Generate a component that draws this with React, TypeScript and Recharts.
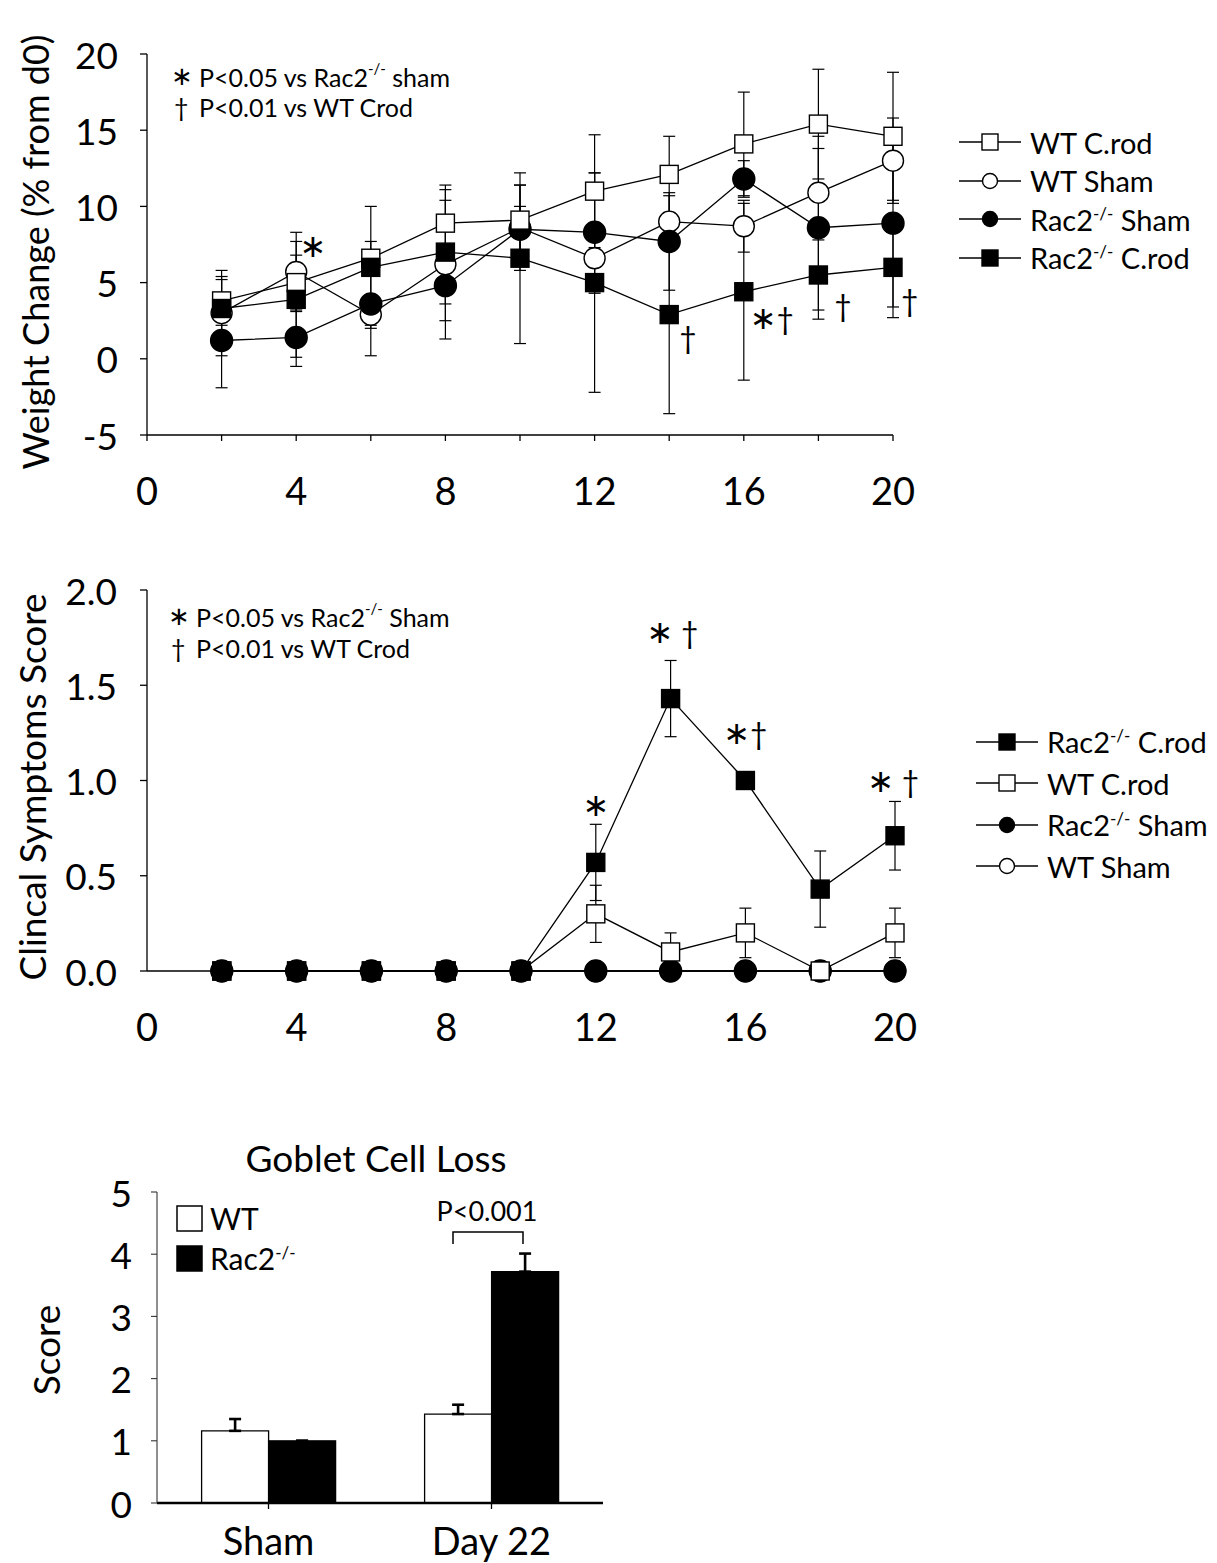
import React from 'react';
import { LineChart, Line, XAxis, YAxis, ErrorBar, BarChart, Bar, Legend, ReferenceDot } from 'recharts';

const FONT = 'Lato, "Open Sans", "DejaVu Sans", sans-serif';
const STAR_FONT = '"DejaVu Sans", sans-serif';

// days after infection
const days = [2, 4, 6, 8, 10, 12, 14, 16, 18, 20];

// weight change (% from d0): means and error bars
const wtCrodWeight = [3.8, 5.0, 6.6, 8.9, 9.1, 11.0, 12.1, 14.1, 15.4, 14.6];
const wtCrodWeightErr = [1.6, 1.8, 1.1, 2.5, 2.3, 3.7, 2.5, 3.4, 3.6, 4.2];
const wtShamWeight = [3.0, 5.7, 2.9, 6.2, 8.6, 6.6, 9.0, 8.7, 10.9, 13.0];
const wtShamWeightErr = [2.8, 2.6, 0.7, 4.9, 2.8, 2.3, 1.7, 1.7, 2.9, 2.8];
const racShamWeight = [1.2, 1.4, 3.6, 4.8, 8.5, 8.3, 7.7, 11.8, 8.6, 8.9];
const racShamWeightErr = [3.1, 1.9, 3.4, 2.3, 1.5, 3.9, 3.2, 1.2, 6.0, 6.2];
const racCrodWeight = [3.3, 3.9, 6.0, 7.0, 6.6, 5.0, 2.9, 4.4, 5.5, 6.0];
const racCrodWeightErr = [1.9, 3.8, 4.0, 3.4, 5.6, 7.2, 6.5, 5.8, 2.3, 2.6];

// clinical symptoms score
const racCrodScore = [0, 0, 0, 0, 0, 0.57, 1.43, 1.0, 0.43, 0.71];
const racCrodScoreErr = [0, 0, 0, 0, 0, 0.2, 0.2, 0, 0.2, 0.18];
const wtCrodScore = [0, 0, 0, 0, 0, 0.3, 0.1, 0.2, 0, 0.2];
const wtCrodScoreErr = [0, 0, 0, 0, 0, 0.15, 0.1, 0.13, 0, 0.13];
const racShamScore = [0, 0, 0, 0, 0, 0, 0, 0, 0, 0];
const wtShamScore = [0, 0, 0, 0, 0, 0, 0, 0, 0, 0];

// goblet cell loss
const gobletGroups = ['Sham', 'Day 22'];
const gobletWt = [1.16, 1.43];
const gobletWtErr = [0.19, 0.15];
const gobletRac = [1.0, 3.72];
const gobletRacErr = [0, 0.29];

// significance marks
const weightMarks = [
  { day: 4.45, value: 7.4, text: '*' },
  { day: 14.5, value: 1.4, text: '†' },
  { day: 16.75, value: 2.65, text: '*†' },
  { day: 18.66, value: 3.5, text: '†' },
  { day: 20.45, value: 3.85, text: '†' },
];
const scoreMarks = [
  { day: 12, value: 0.87, text: '*' },
  { day: 14.05, value: 1.78, text: '* †' },
  { day: 16.0, value: 1.25, text: '*†' },
  { day: 19.95, value: 1.0, text: '* †' },
];

const weightRows = days.map((d, i) => ({
  day: d,
  wtCrod: wtCrodWeight[i], wtCrodErr: wtCrodWeightErr[i],
  wtSham: wtShamWeight[i], wtShamErr: wtShamWeightErr[i],
  racSham: racShamWeight[i], racShamErr: racShamWeightErr[i],
  racCrod: racCrodWeight[i], racCrodErr: racCrodWeightErr[i],
}));

const scoreRows = days.map((d, i) => ({
  day: d,
  racCrod: racCrodScore[i], racCrodErr: racCrodScoreErr[i],
  wtCrod: wtCrodScore[i], wtCrodErr: wtCrodScoreErr[i],
  racSham: racShamScore[i],
  wtSham: wtShamScore[i],
}));

const gobletRows = gobletGroups.map((g, i) => ({
  group: g,
  wt: gobletWt[i], wtErr: [0, gobletWtErr[i]],
  rac: gobletRac[i], racErr: [0, gobletRacErr[i]],
}));

type Shape = 'square' | 'circle';
type Series = { key: string; name: string; shape: Shape; filled: boolean; size: number };

const SERIES: Record<string, Series> = {
  wtCrod: { key: 'wtCrod', name: 'WT C.rod', shape: 'square', filled: false, size: 18 },
  wtSham: { key: 'wtSham', name: 'WT Sham', shape: 'circle', filled: false, size: 21 },
  racSham: { key: 'racSham', name: 'Rac2-/- Sham', shape: 'circle', filled: true, size: 22 },
  racCrod: { key: 'racCrod', name: 'Rac2-/- C.rod', shape: 'square', filled: true, size: 18 },
};

function Marker({ cx, cy, shape, filled, size }: { cx: number; cy: number; shape: Shape; filled: boolean; size: number }) {
  const fill = filled ? '#000' : '#fff';
  if (shape === 'square')
    return <rect x={cx - size / 2} y={cy - size / 2} width={size} height={size} fill={fill} stroke="#000" strokeWidth={1.4} />;
  return <circle cx={cx} cy={cy} r={size / 2} fill={fill} stroke="#000" strokeWidth={1.4} />;
}

const dotFor = (s: Series) => (p: any) => (
  <g key={`${s.key}-dot-${p.index}`}>
    {p.cx != null && p.cy != null ? <Marker cx={p.cx} cy={p.cy} shape={s.shape} filled={s.filled} size={s.size} /> : null}
  </g>
);

function Name({ name }: { name: string }) {
  if (!name.includes('-/-')) return <>{name}</>;
  const [a, b] = name.split('-/-');
  return (
    <>
      {a}
      <span style={{ fontSize: 17, position: 'relative', top: -11 }}>-/-</span>
      {b}
    </>
  );
}

function KeyList({ items, rowH }: { items: Series[]; rowH: number }) {
  return (
    <div style={{ fontFamily: FONT, fontSize: 29, color: '#000' }}>
      {items.map((s) => (
        <div key={s.key} style={{ display: 'flex', alignItems: 'center', height: rowH }}>
          <svg width={62} height={26} style={{ flex: 'none' }}>
            <line x1={0} x2={62} y1={13} y2={13} stroke="#000" strokeWidth={1.6} />
            <Marker cx={31} cy={13} shape={s.shape} filled={s.filled} size={s.shape === 'square' ? 16 : 15} />
          </svg>
          <span style={{ marginLeft: 9, whiteSpace: 'nowrap', lineHeight: 1 }}>
            <Name name={s.name} />
          </span>
        </div>
      ))}
    </div>
  );
}

// mixes a big centred asterisk with the text font's dagger
function Sig({ text }: { text: string }) {
  return (
    <>
      {text.split('').map((c, i) =>
        c === '*' ? (
          <tspan key={i} fontFamily={STAR_FONT} fontSize={32}>∗</tspan>
        ) : (
          <tspan key={i} fontFamily={FONT} fontSize={30}>{c}</tspan>
        )
      )}
    </>
  );
}

const xTick = (every: number) => (p: any) => {
  if (p.payload.value % every !== 0) return <g />;
  return (
    <text x={p.x} y={p.y + 49} textAnchor="middle" dominantBaseline="central" fontSize={38} fontFamily={FONT} fill="#000">
      {p.payload.value}
    </text>
  );
};

const yTick = (digits: number) => (p: any) => (
  <text x={p.x} y={p.y} textAnchor="end" dominantBaseline="central" fontSize={37} fontFamily={FONT} fill="#000">
    {digits ? Number(p.payload.value).toFixed(digits) : p.payload.value}
  </text>
);

const markLabel = (text: string) => (p: any) => (
  <text x={p.viewBox.x} y={p.viewBox.y} textAnchor="middle" dominantBaseline="central" fill="#000">
    <Sig text={text} />
  </text>
);

function Notes({ x, y, gap, word }: { x: number; y: number; gap: number; word: string }) {
  return (
    <g fontFamily={FONT} fontSize={25} fill="#000">
      <text x={x - 1} y={y - 1} dominantBaseline="central" fontFamily={STAR_FONT} fontSize={26}>∗</text>
      <text x={x + 27} y={y} dominantBaseline="central">
        {'P<0.05 vs Rac2'}
        <tspan dy={-9} fontSize={15}>-/-</tspan>
        <tspan dy={9}>{' ' + word}</tspan>
      </text>
      <text x={x + 2} y={y + gap} dominantBaseline="central">†</text>
      <text x={x + 27} y={y + gap} dominantBaseline="central">{'P<0.01 vs WT Crod'}</text>
    </g>
  );
}

const axisStroke = { stroke: '#000', strokeWidth: 1.3 };
const line = { type: 'linear' as const, stroke: '#000', strokeWidth: 1.3, activeDot: false, isAnimationActive: false, legendType: 'none' as const };

function WeightPanel() {
  const order = [SERIES.wtSham, SERIES.racSham, SERIES.wtCrod, SERIES.racCrod];
  return (
    <div style={{ position: 'absolute', left: 0, top: 0, width: 1217, height: 520 }}>
      <LineChart width={1217} height={520} data={weightRows} margin={{ top: 54, right: 324, bottom: 0, left: 0 }}>
        <XAxis dataKey="day" type="number" domain={[0, 20]} ticks={[0, 2, 4, 6, 8, 10, 12, 14, 16, 18, 20]} interval={0}
          height={85} tickSize={6} tickMargin={0} axisLine={axisStroke} tickLine={axisStroke} tick={xTick(4)} />
        <YAxis type="number" domain={[-5, 20]} ticks={[-5, 0, 5, 10, 15, 20]} interval={0} width={147}
          tickSize={7} tickMargin={22} axisLine={axisStroke} tickLine={axisStroke} tick={yTick(0)} />
        {order.map((s) => (
          <Line key={s.key} dataKey={s.key} name={s.name} {...line} dot={dotFor(s)}>
            <ErrorBar dataKey={`${s.key}Err`} width={6} stroke="#000" strokeWidth={1.2} direction="y" />
          </Line>
        ))}
        {weightMarks.map((m, i) => (
          <ReferenceDot key={i} x={m.day} y={m.value} r={0} fill="none" stroke="none" ifOverflow="visible" label={markLabel(m.text)} />
        ))}
        <Legend layout="vertical" align="center" verticalAlign="middle" wrapperStyle={{ left: 959, top: 123, width: 258 }}
          content={() => <KeyList items={[SERIES.wtCrod, SERIES.wtSham, SERIES.racSham, SERIES.racCrod]} rowH={38.5} />} />
      </LineChart>
      <svg width={1217} height={520} style={{ position: 'absolute', left: 0, top: 0, pointerEvents: 'none' }}>
        <text transform="translate(35,252) rotate(-90)" textAnchor="middle" dominantBaseline="central" fontSize={36} fontFamily={FONT}>
          Weight Change (% from d0)
        </text>
        <Notes x={172} y={77} gap={30} word="sham" />
      </svg>
    </div>
  );
}

function ScorePanel() {
  const order = [SERIES.wtSham, SERIES.racSham, SERIES.wtCrod, SERIES.racCrod];
  return (
    <div style={{ position: 'absolute', left: 0, top: 540, width: 1217, height: 540 }}>
      <LineChart width={1217} height={540} data={scoreRows} margin={{ top: 50, right: 322, bottom: 0, left: 0 }}>
        <XAxis dataKey="day" type="number" domain={[0, 20]} ticks={[0, 4, 8, 12, 16, 20]} interval={0}
          height={109} tickSize={6} tickMargin={0} axisLine={axisStroke} tickLine={false} tick={xTick(4)} />
        <YAxis type="number" domain={[0, 2]} ticks={[0, 0.5, 1, 1.5, 2]} interval={0} width={147}
          tickSize={7} tickMargin={23} axisLine={axisStroke} tickLine={axisStroke} tick={yTick(1)} />
        {order.map((s) => (
          <Line key={s.key} dataKey={s.key} name={s.name} {...line} dot={dotFor(s)}>
            {s.key === 'racCrod' || s.key === 'wtCrod' ? (
              <ErrorBar dataKey={`${s.key}Err`} width={6} stroke="#000" strokeWidth={1.2} direction="y" />
            ) : null}
          </Line>
        ))}
        {scoreMarks.map((m, i) => (
          <ReferenceDot key={i} x={m.day} y={m.value} r={0} fill="none" stroke="none" ifOverflow="visible" label={markLabel(m.text)} />
        ))}
        <Legend layout="vertical" align="center" verticalAlign="middle" wrapperStyle={{ left: 976, top: 181, width: 241 }}
          content={() => <KeyList items={[SERIES.racCrod, SERIES.wtCrod, SERIES.racSham, SERIES.wtSham]} rowH={41.5} />} />
      </LineChart>
      <svg width={1217} height={540} style={{ position: 'absolute', left: 0, top: 0, pointerEvents: 'none' }}>
        <text transform="translate(31,247) rotate(-90)" textAnchor="middle" dominantBaseline="central" fontSize={37} fontFamily={FONT}>
          Clincal Symptoms Score
        </text>
        <Notes x={169} y={77} gap={31} word="Sham" />
      </svg>
    </div>
  );
}

function GobletPanel() {
  return (
    <div style={{ position: 'absolute', left: 0, top: 1100, width: 640, height: 463 }}>
      <BarChart width={640} height={463} data={gobletRows} margin={{ top: 92, right: 37, bottom: 0, left: 0 }}
        barCategoryGap="20%" barGap={0}>
        <XAxis dataKey="group" height={60} tickSize={6} tickMargin={0}
          axisLine={{ stroke: '#000', strokeWidth: 2.5 }} tickLine={axisStroke}
          tick={(p: any) => (
            <text x={p.x} y={p.y + 31} textAnchor="middle" dominantBaseline="central" fontSize={38} fontFamily={FONT} fill="#000">
              {p.payload.value}
            </text>
          )} />
        <YAxis type="number" domain={[0, 5]} ticks={[0, 1, 2, 3, 4, 5]} interval={0} width={157}
          tickSize={6} tickMargin={19} axisLine={{ stroke: '#333', strokeWidth: 1.1 }} tickLine={{ stroke: '#333', strokeWidth: 1.1 }} tick={yTick(0)} />
        <Bar dataKey="wt" name="WT" fill="#fff" stroke="#000" strokeWidth={1.3} isAnimationActive={false} legendType="none">
          <ErrorBar dataKey="wtErr" width={6} stroke="#000" strokeWidth={2.6} direction="y" />
        </Bar>
        <Bar dataKey="rac" name="Rac2-/-" fill="#000" stroke="#000" strokeWidth={1.3} isAnimationActive={false} legendType="none">
          <ErrorBar dataKey="racErr" width={6} stroke="#000" strokeWidth={2.6} direction="y" />
        </Bar>
        <Legend layout="vertical" align="center" verticalAlign="middle" wrapperStyle={{ left: 176, top: 98, width: 200 }}
          content={() => (
            <div style={{ fontFamily: FONT, fontSize: 30, color: '#000' }}>
              {[{ n: 'WT', f: '#fff' }, { n: 'Rac2-/-', f: '#000' }].map((it) => (
                <div key={it.n} style={{ display: 'flex', alignItems: 'center', height: 40 }}>
                  <svg width={27} height={27} style={{ flex: 'none' }}>
                    <rect x={1} y={1} width={25} height={25} fill={it.f} stroke="#000" strokeWidth={1.5} />
                  </svg>
                  <span style={{ marginLeft: 7, lineHeight: 1, whiteSpace: 'nowrap' }}>
                    <Name name={it.n} />
                  </span>
                </div>
              ))}
            </div>
          )} />
      </BarChart>
      <svg width={640} height={463} style={{ position: 'absolute', left: 0, top: 0, pointerEvents: 'none' }}>
        <text x={376} y={57} textAnchor="middle" dominantBaseline="central" fontSize={37} fontFamily={FONT}>Goblet Cell Loss</text>
        <text transform="translate(45,250) rotate(-90)" textAnchor="middle" dominantBaseline="central" fontSize={37} fontFamily={FONT}>Score</text>
        <text x={487} y={110} textAnchor="middle" dominantBaseline="central" fontSize={27} fontFamily={FONT}>{'P<0.001'}</text>
        <path d="M453 144 V132 H523 V144" fill="none" stroke="#000" strokeWidth={1.5} />
      </svg>
    </div>
  );
}

export default function App() {
  return (
    <div style={{ position: 'absolute', left: 0, top: 0, width: 1217, height: 1563, background: '#fff' }}>
      <WeightPanel />
      <ScorePanel />
      <GobletPanel />
    </div>
  );
}
